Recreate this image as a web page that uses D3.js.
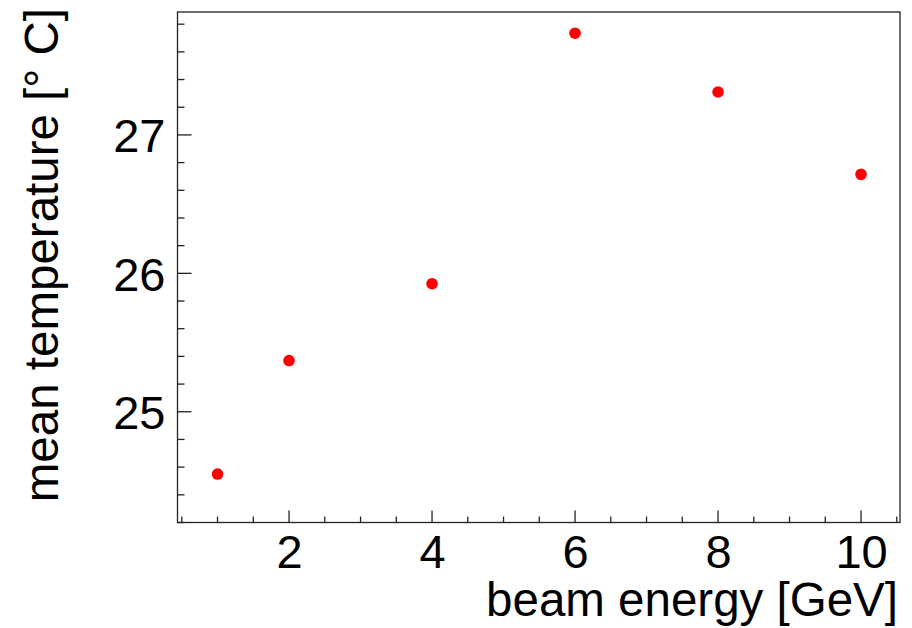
<!DOCTYPE html>
<html><head><meta charset="utf-8">
<script src="https://cdn.jsdelivr.net/npm/d3@7"></script>
<style>body{margin:0;background:#fff}svg{display:block}text{font-family:"Liberation Sans",Arial,sans-serif;fill:#000}</style>
</head><body>
<script>
const energies = [1, 2, 4, 6, 8, 10];
const meanTemps = [24.55, 25.37, 25.925, 27.735, 27.31, 26.715];
const xTicks = [2, 4, 6, 8, 10];
const yTicks = [25, 26, 27];
const xTitle = "beam energy [GeV]";
const yTitle = "mean temperature [° C]";

const W = 912, H = 628;
const L = 177.5, R = 900, T = 12, B = 522.5;
const svg = d3.select("body").append("svg").attr("width", W).attr("height", H);

const x = d3.scaleLinear().domain([0.44, 10.545]).range([L, R]);
const y = d3.scaleLinear().domain([24.2, 27.888]).range([B, T]);

// frame
svg.append("rect").attr("x", L).attr("y", T).attr("width", R - L).attr("height", B - T)
  .attr("fill", "none").attr("stroke", "#222").attr("stroke-width", 1.3);

// x axis ticks
const xMinor = d3.range(0.5, 10.51, 0.5);
svg.append("g").selectAll("line").data(xMinor).join("line")
  .attr("x1", d => x(d)).attr("x2", d => x(d))
  .attr("y1", B).attr("y2", d => B - (Math.abs(d % 2) < 1e-9 ? 12 : 6))
  .attr("stroke", "#222").attr("stroke-width", 1.3);
const xAxis = d3.axisBottom(x).tickValues(xTicks).tickSize(0).tickPadding(0).tickFormat(d3.format("d"));
const gx = svg.append("g").attr("transform", `translate(0,${B})`).call(xAxis);
gx.select(".domain").remove();
gx.selectAll("text").attr("font-size", 47).attr("dy", null).attr("y", 45)
  .style("font-family", '"Liberation Sans",Arial,sans-serif').attr("fill", "#000");

// y axis ticks
const yMinor = d3.range(24.2, 27.81, 0.2).map(v => Math.round(v * 10) / 10);
svg.append("g").selectAll("line").data(yMinor).join("line")
  .attr("x1", L).attr("x2", d => L + (Math.abs(d - Math.round(d)) < 1e-6 ? 14 : 7))
  .attr("y1", d => y(d)).attr("y2", d => y(d))
  .attr("stroke", "#222").attr("stroke-width", 1.3);
const yAxis = d3.axisLeft(y).tickValues(yTicks).tickSize(0).tickPadding(12).tickFormat(d3.format("d"));
const gy = svg.append("g").attr("transform", `translate(${L},0)`).call(yAxis);
gy.select(".domain").remove();
gy.selectAll("text").attr("font-size", 47).attr("dy", "0.36em")
  .style("font-family", '"Liberation Sans",Arial,sans-serif').attr("fill", "#000");

// titles
svg.append("text").attr("x", 898).attr("y", 616).attr("text-anchor", "end")
  .attr("font-size", 47.5).text(xTitle);
svg.append("text").attr("transform", `translate(58,8) rotate(-90)`)
  .attr("text-anchor", "end").attr("font-size", 47.5).text(yTitle);

// points
svg.append("g").selectAll("circle").data(energies.map((e, i) => [e, meanTemps[i]])).join("circle")
  .attr("cx", d => x(d[0])).attr("cy", d => y(d[1])).attr("r", 5.8).attr("fill", "#ff0000");
</script>
</body></html>
